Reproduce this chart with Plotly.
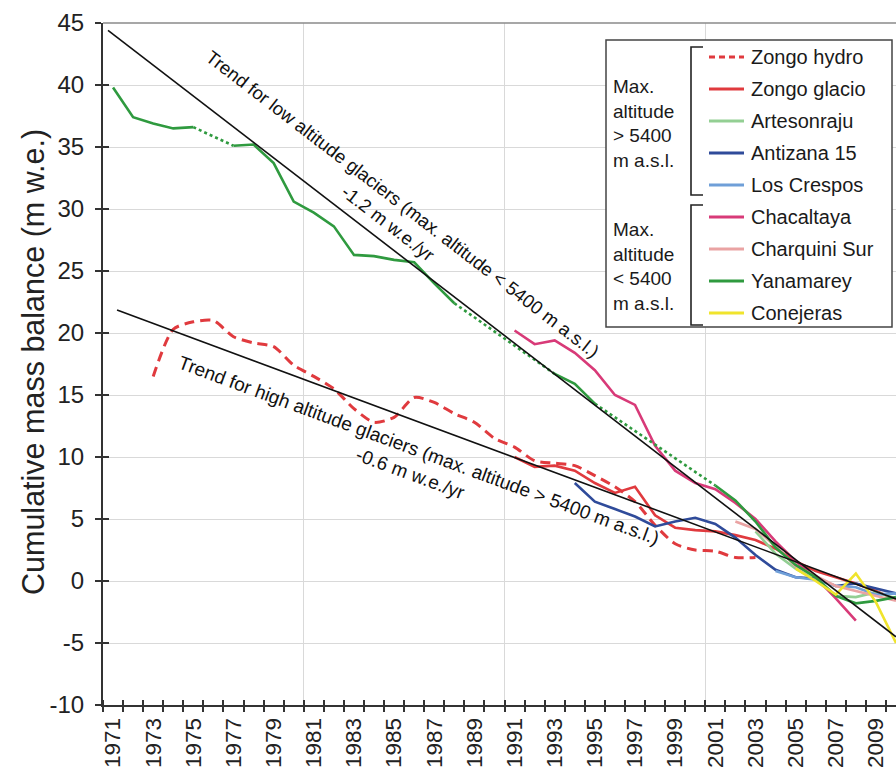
import plotly.graph_objects as go

# ---------------- data ----------------
tick_years = list(range(1971, 2010, 2))
tick_labels = [str(y) for y in tick_years]
y_ticks = list(range(-10, 46, 5))
y_tick_labels = [str(v) for v in y_ticks]

zongo_hydro_years = list(range(1973, 2004))
zongo_hydro = [16.5, 20.3, 20.9, 21.0, 19.7, 19.2, 18.9, 17.4, 16.5, 15.5,
               13.9, 12.8, 13.2, 14.8, 14.4, 13.5, 12.8, 11.5, 10.8, 9.7,
               9.5, 9.3, 8.5, 7.6, 6.4, 4.5, 3.0, 2.5, 2.4, 1.9, 1.9]

zongo_glacio_years = list(range(1991, 2011))
zongo_glacio = [10.0, 9.2, 9.3, 8.9, 7.9, 7.1, 7.6, 5.3, 4.3, 4.1,
                4.0, 3.7, 3.3, 2.6, 1.6, 0.8, 0.3, -0.2, -0.8, -1.5]

artesonraju_years = list(range(2003, 2011))
artesonraju = [4.0, 2.2, 1.0, 0.1, -1.2, -1.3, -0.9, -1.4]

antizana_years = list(range(1994, 2011))
antizana = [7.9, 6.4, 5.8, 5.2, 4.4, 4.8, 5.1, 4.6, 3.5, 2.1,
            0.9, 0.3, 0.2, -0.4, -0.2, -0.6, -1.0]

los_crespos_years = list(range(2004, 2011))
los_crespos = [0.8, 0.3, 0.1, -0.4, -0.5, -1.1, -1.0]

chacaltaya_years = list(range(1991, 2009))
chacaltaya = [20.2, 19.1, 19.4, 18.4, 17.0, 15.0, 14.2, 10.9, 8.9, 7.9,
              7.4, 6.3, 5.0, 3.2, 1.6, 0.3, -1.4, -3.2]

charquini_years = list(range(2002, 2011))
charquini = [4.8, 4.2, 2.8, 1.2, 0.4, -0.4, -0.8, -1.2, -1.6]

yanamarey_years = list(range(1971, 2011))
yanamarey = [39.8, 37.4, 36.9, 36.5, 36.6, None, 35.1, 35.2, 33.7, 30.6,
             29.7, 28.6, 26.3, 26.2, 25.9, 25.7, 24.0, 22.4, None, None,
             None, None, 16.7, 15.9, 14.3, None, None, None, None, None,
             7.7, 6.5, 4.8, 2.7, 1.3, 0.3, -1.2, -1.8, -1.6, -1.3]

conejeras_years = list(range(2005, 2011))
conejeras = [1.0, 0.0, -1.1, 0.6, -1.7, -5.0]

# trend lines: [start year, end year, value at start, slope per year]
trend_low = [1970.75, 2010.0, 44.4, -1.246]
trend_high = [1971.2, 2010.0, 21.85, -0.6005]

legend_names = ["Zongo hydro", "Zongo glacio", "Artesonraju", "Antizana 15",
                "Los Crespos", "Chacaltaya", "Charquini Sur", "Yanamarey",
                "Conejeras"]
legend_colors = ["#e03a3e", "#e03a3e", "#93cf93", "#2f4b9a", "#6f9fd8",
                 "#d83a78", "#eaa3a3", "#2f9a3f", "#f0e42c"]
legend_dash = ["dash", "solid", "solid", "solid", "solid", "solid", "solid",
               "solid", "solid"]

FONT = "Liberation Sans, Arial, sans-serif"

# ---------------- figure ----------------
fig = go.Figure()

series = [
    (zongo_hydro_years, zongo_hydro, 0),
    (zongo_glacio_years, zongo_glacio, 1),
    (artesonraju_years, artesonraju, 2),
    (antizana_years, antizana, 3),
    (los_crespos_years, los_crespos, 4),
    (chacaltaya_years, chacaltaya, 5),
    (charquini_years, charquini, 6),
    (yanamarey_years, yanamarey, 7),
    (conejeras_years, conejeras, 8),
]

for xs, ys, i in series:
    is_hydro = i == 0
    fig.add_trace(go.Scatter(
        x=xs, y=ys, mode="lines", name=legend_names[i], showlegend=False,
        line=dict(color=legend_colors[i], width=3 if is_hydro else 2.6,
                  dash="10px,6px" if is_hydro else "solid",
                  shape="spline" if is_hydro else "linear",
                  smoothing=0.7 if is_hydro else None),
        connectgaps=False, hoverinfo="skip"))

# dotted connectors across Yanamarey gaps (derived from the data)
dot_x, dot_y = [], []
prev = None
for yr, v in zip(yanamarey_years, yanamarey):
    if v is None:
        continue
    if prev is not None and yr - prev[0] > 1:
        dot_x += [prev[0], yr, None]
        dot_y += [prev[1], v, None]
    prev = (yr, v)
fig.add_trace(go.Scatter(x=dot_x, y=dot_y, mode="lines", showlegend=False,
                         line=dict(color=legend_colors[7], width=2.6, dash="dot"),
                         hoverinfo="skip"))

# trend lines (drawn on overlay axes so they sit on top)
for t in (trend_low, trend_high):
    x0, x1, v0, s = t
    fig.add_trace(go.Scatter(x=[x0, x1], y=[v0, v0 + s * (x1 - x0)], mode="lines",
                             showlegend=False, xaxis="x2", yaxis="y2",
                             line=dict(color="#111111", width=1.6),
                             hoverinfo="skip"))

XR = [1970.5, 2010.0]
YR = [-10, 45]
half_years = [y + 0.5 for y in range(1970, 2011)]

fig.update_layout(
    width=896, height=776,
    margin=dict(l=103, r=0, t=23, b=71, pad=0),
    plot_bgcolor="white", paper_bgcolor="white",
    font=dict(family=FONT, color="#222222"),
    showlegend=False,
    xaxis=dict(range=XR, tickmode="array", tickvals=tick_years, ticktext=tick_labels,
               tickangle=-90, ticks="", showgrid=False, zeroline=False,
               tickfont=dict(size=22.5, family=FONT, color="#222222"),
               showline=True, linecolor="#333333", linewidth=2,
               ticklabelstandoff=2,
               minor=dict(tickmode="array", tickvals=half_years, ticks="outside",
                          ticklen=5, tickwidth=1.5, tickcolor="#333333",
                          showgrid=False)),
    yaxis=dict(range=YR, tickmode="array", tickvals=y_ticks, ticktext=y_tick_labels,
               ticks="outside",
               ticklen=6, tickwidth=1.5, tickcolor="#333333",
               showgrid=True, gridcolor="#d9d9d9", gridwidth=1.2, zeroline=False,
               showline=True, linecolor="#333333", linewidth=2,
               tickfont=dict(size=24, family=FONT, color="#222222"),
               ticklabelstandoff=6),
    xaxis2=dict(range=XR, overlaying="x", anchor="y2", side="bottom",
                tickmode="array", tickvals=[1980.5, 1990.5, 2000.5],
                showticklabels=False, ticks="", showgrid=True,
                gridcolor="#d9d9d9", gridwidth=1.2, zeroline=False, showline=False,
                minor=dict(tickmode="array", tickvals=half_years, ticks="inside",
                           ticklen=5, tickwidth=1.5, tickcolor="#333333",
                           showgrid=False)),
    yaxis2=dict(range=YR, overlaying="y", anchor="x2", side="left",
                tickmode="array", tickvals=y_ticks, ticks="inside", ticklen=6,
                tickwidth=1.5, tickcolor="#333333", showticklabels=False,
                showgrid=False, zeroline=False, showline=False),
)

# ---------------- decorations (pixel -> paper helpers) ----------------
L, T, W, H = 103, 23, 793, 682


def px(x):
    return (x - L) / W


def py(y):
    return (T + H - y) / H


shapes = []
annotations = []

# top border of plot area
shapes.append(dict(type="line", xref="paper", yref="paper", x0=0, x1=1, y0=1, y1=1,
                   line=dict(color="#8a8a8a", width=1.5), layer="above"))

# legend box
shapes.append(dict(type="rect", xref="paper", yref="paper",
                   x0=px(606), x1=px(892), y0=py(327), y1=py(40),
                   line=dict(color="#444444", width=1.5), fillcolor="white",
                   layer="above"))

for i, name in enumerate(legend_names):
    yy = 57 + 32 * i
    shapes.append(dict(type="line", xref="paper", yref="paper",
                       x0=px(709), x1=px(744), y0=py(yy), y1=py(yy),
                       line=dict(color=legend_colors[i], width=3,
                                 dash="6px,4px" if legend_dash[i] == "dash" else "solid"),
                       layer="above"))
    annotations.append(dict(xref="paper", yref="paper", x=px(749), y=py(yy),
                            xanchor="left", yanchor="middle", showarrow=False,
                            text=name, font=dict(size=20, family=FONT, color="#1a1a1a")))

# group brackets
for top, bot in ((47, 195), (205, 325)):
    path = "M {a},{b} L {c},{b} L {c},{d} L {a},{d}".format(
        a=px(703), b=py(top), c=px(691), d=py(bot))
    shapes.append(dict(type="path", xref="paper", yref="paper", path=path,
                       line=dict(color="#222222", width=1.6), layer="above"))

annotations.append(dict(xref="paper", yref="paper", x=px(611), y=py(124),
                        xanchor="left", yanchor="middle", showarrow=False, align="left",
                        text="Max.<br>altitude<br>&gt; 5400<br>m a.s.l.",
                        font=dict(size=19, family=FONT, color="#1a1a1a")))
annotations.append(dict(xref="paper", yref="paper", x=px(611), y=py(266),
                        xanchor="left", yanchor="middle", showarrow=False, align="left",
                        text="Max.<br>altitude<br>&lt; 5400<br>m a.s.l.",
                        font=dict(size=19, family=FONT, color="#1a1a1a")))

# y-axis title
annotations.append(dict(xref="paper", yref="paper", x=px(33), y=py(362),
                        xanchor="center", yanchor="middle", showarrow=False,
                        textangle=-90, text="Cumulative mass balance (m w.e.)",
                        font=dict(size=30.5, family=FONT, color="#222222")))

# trend labels
annotations.append(dict(xref="x", yref="y", x=1985.05, y=29.6, showarrow=False,
                        xanchor="center", yanchor="middle", textangle=37.6,
                        text="Trend for low altitude glaciers (max. altitude &lt; 5400 m a.s.l.)"
                             "<br>-1.2 m w.e./yr",
                        font=dict(size=18.5, family=FONT, color="#111111")))
annotations.append(dict(xref="x", yref="y", x=1986.0, y=9.6, showarrow=False,
                        xanchor="center", yanchor="middle", textangle=20.3,
                        text="Trend for high altitude glaciers (max. altitude &gt; 5400 m a.s.l.)"
                             "<br>-0.6 m w.e./yr",
                        font=dict(size=19, family=FONT, color="#111111")))

fig.update_layout(shapes=shapes, annotations=annotations)

fig.write_html("out.html")
